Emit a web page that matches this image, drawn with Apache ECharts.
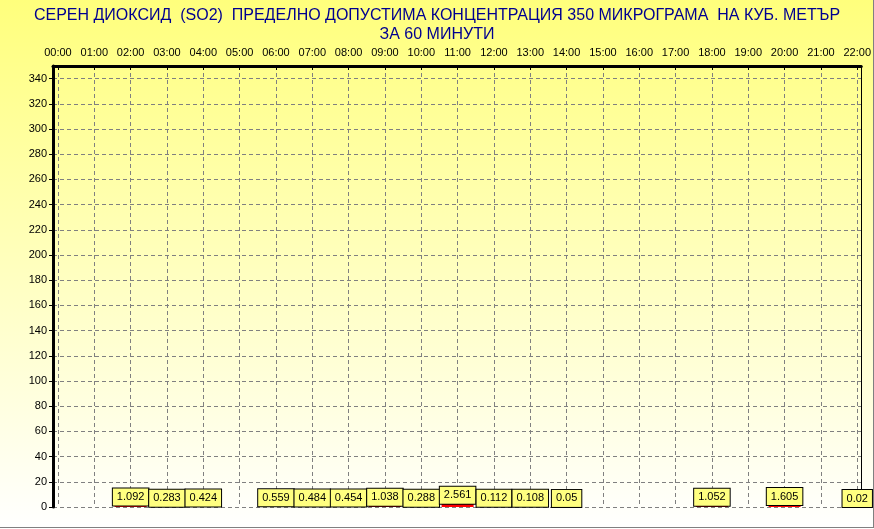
<!DOCTYPE html>
<html>
<head>
<meta charset="utf-8">
<script src="https://cdn.jsdelivr.net/npm/echarts@6/dist/echarts.min.js"></script>
<style>html,body{margin:0;padding:0;background:#fff}#c{width:874px;height:529px}</style>
</head>
<body>
<div id="c"></div>
<script>
var titleLines = ['СЕРЕН ДИОКСИД  (SO2)  ПРЕДЕЛНО ДОПУСТИМА КОНЦЕНТРАЦИЯ 350 МИКРОГРАМА  НА КУБ. МЕТЪР', 'ЗА 60 МИНУТИ'];
var hours = ['00:00','01:00','02:00','03:00','04:00','05:00','06:00','07:00','08:00','09:00','10:00','11:00','12:00','13:00','14:00','15:00','16:00','17:00','18:00','19:00','20:00','21:00','22:00'];
var so2 = [null,null,1.092,0.283,0.424,null,0.559,0.484,0.454,1.038,0.288,2.561,0.112,0.108,0.05,null,null,null,1.052,null,1.605,null,0.02];
var yTicks = [0,20,40,60,80,100,120,140,160,180,200,220,240,260,280,300,320,340];

var chart = echarts.init(document.getElementById('c'), null, {renderer:'canvas'});
var hourIdx = hours.map(function(h,i){return i;});
var data = [];
so2.forEach(function(v,i){ if(v!==null) data.push([i,v]); });

chart.setOption({
  animation:false,
  backgroundColor:{type:'linear',x:0,y:0,x2:0,y2:1,colorStops:[{offset:0,color:'#FFFF7C'},{offset:1,color:'#FFFFFF'}]},
  title:{
    text:titleLines.join('\n'),
    left:'center', top:1,
    textStyle:{color:'#000090',fontSize:16,fontWeight:'normal',fontFamily:'Arial, "Liberation Sans", sans-serif',lineHeight:19}
  },
  grid:{left:53,right:9,top:66,bottom:22,containLabel:false},
  xAxis:{
    type:'value', position:'top', min:-0.137, max:22.11,
    axisLine:{show:true,onZero:false,lineStyle:{color:'#000',width:3}},
    axisTick:{show:true,inside:true,length:4,customValues:hourIdx,lineStyle:{color:'#000'}},
    axisLabel:{customValues:hourIdx,formatter:function(v){return hours[Math.round(v)];},color:'#000',fontSize:11,fontFamily:'Arial, "Liberation Sans", sans-serif',margin:8},
    splitLine:{show:true,lineStyle:{color:'#808080',type:[4,3],width:1}}
  },
  yAxis:[{
    type:'value', min:0, max:350, position:'left',
    axisLine:{show:true,onZero:false,lineStyle:{color:'#000',width:3}},
    axisTick:{show:true,length:4,customValues:yTicks,lineStyle:{color:'#000'}},
    axisLabel:{customValues:yTicks,color:'#000',fontSize:11,fontFamily:'Arial, "Liberation Sans", sans-serif',margin:6},
    splitLine:{show:true,lineStyle:{color:'#808080',type:[4,3],width:1}}
  },{
    type:'value', min:0, max:350, position:'right',
    axisLine:{show:true,onZero:false,lineStyle:{color:'#000',width:1}},
    axisTick:{show:false}, axisLabel:{show:false}, splitLine:{show:false}
  }],
  series:[{
    type:'bar', data:data, barWidth:32, yAxisIndex:0,
    itemStyle:{color:'#FF0000'},
    label:{
      show:true, position:'top', distance:0,
      formatter:function(p){return String(p.value[1]);},
      color:'#000', fontSize:11, fontFamily:'Arial, "Liberation Sans", sans-serif',
      backgroundColor:'#FFFF80', borderColor:'#000', borderWidth:1,
      padding:[2,4,2,4], lineHeight:13
    }
  }],
  graphic:[
    {type:'line',shape:{x1:0,y1:527.5,x2:874,y2:527.5},style:{stroke:'#808080',lineWidth:1}},
    {type:'line',shape:{x1:873.5,y1:0,x2:873.5,y2:528},style:{stroke:'#808080',lineWidth:1}}
  ]
});
</script>
</body>
</html>
